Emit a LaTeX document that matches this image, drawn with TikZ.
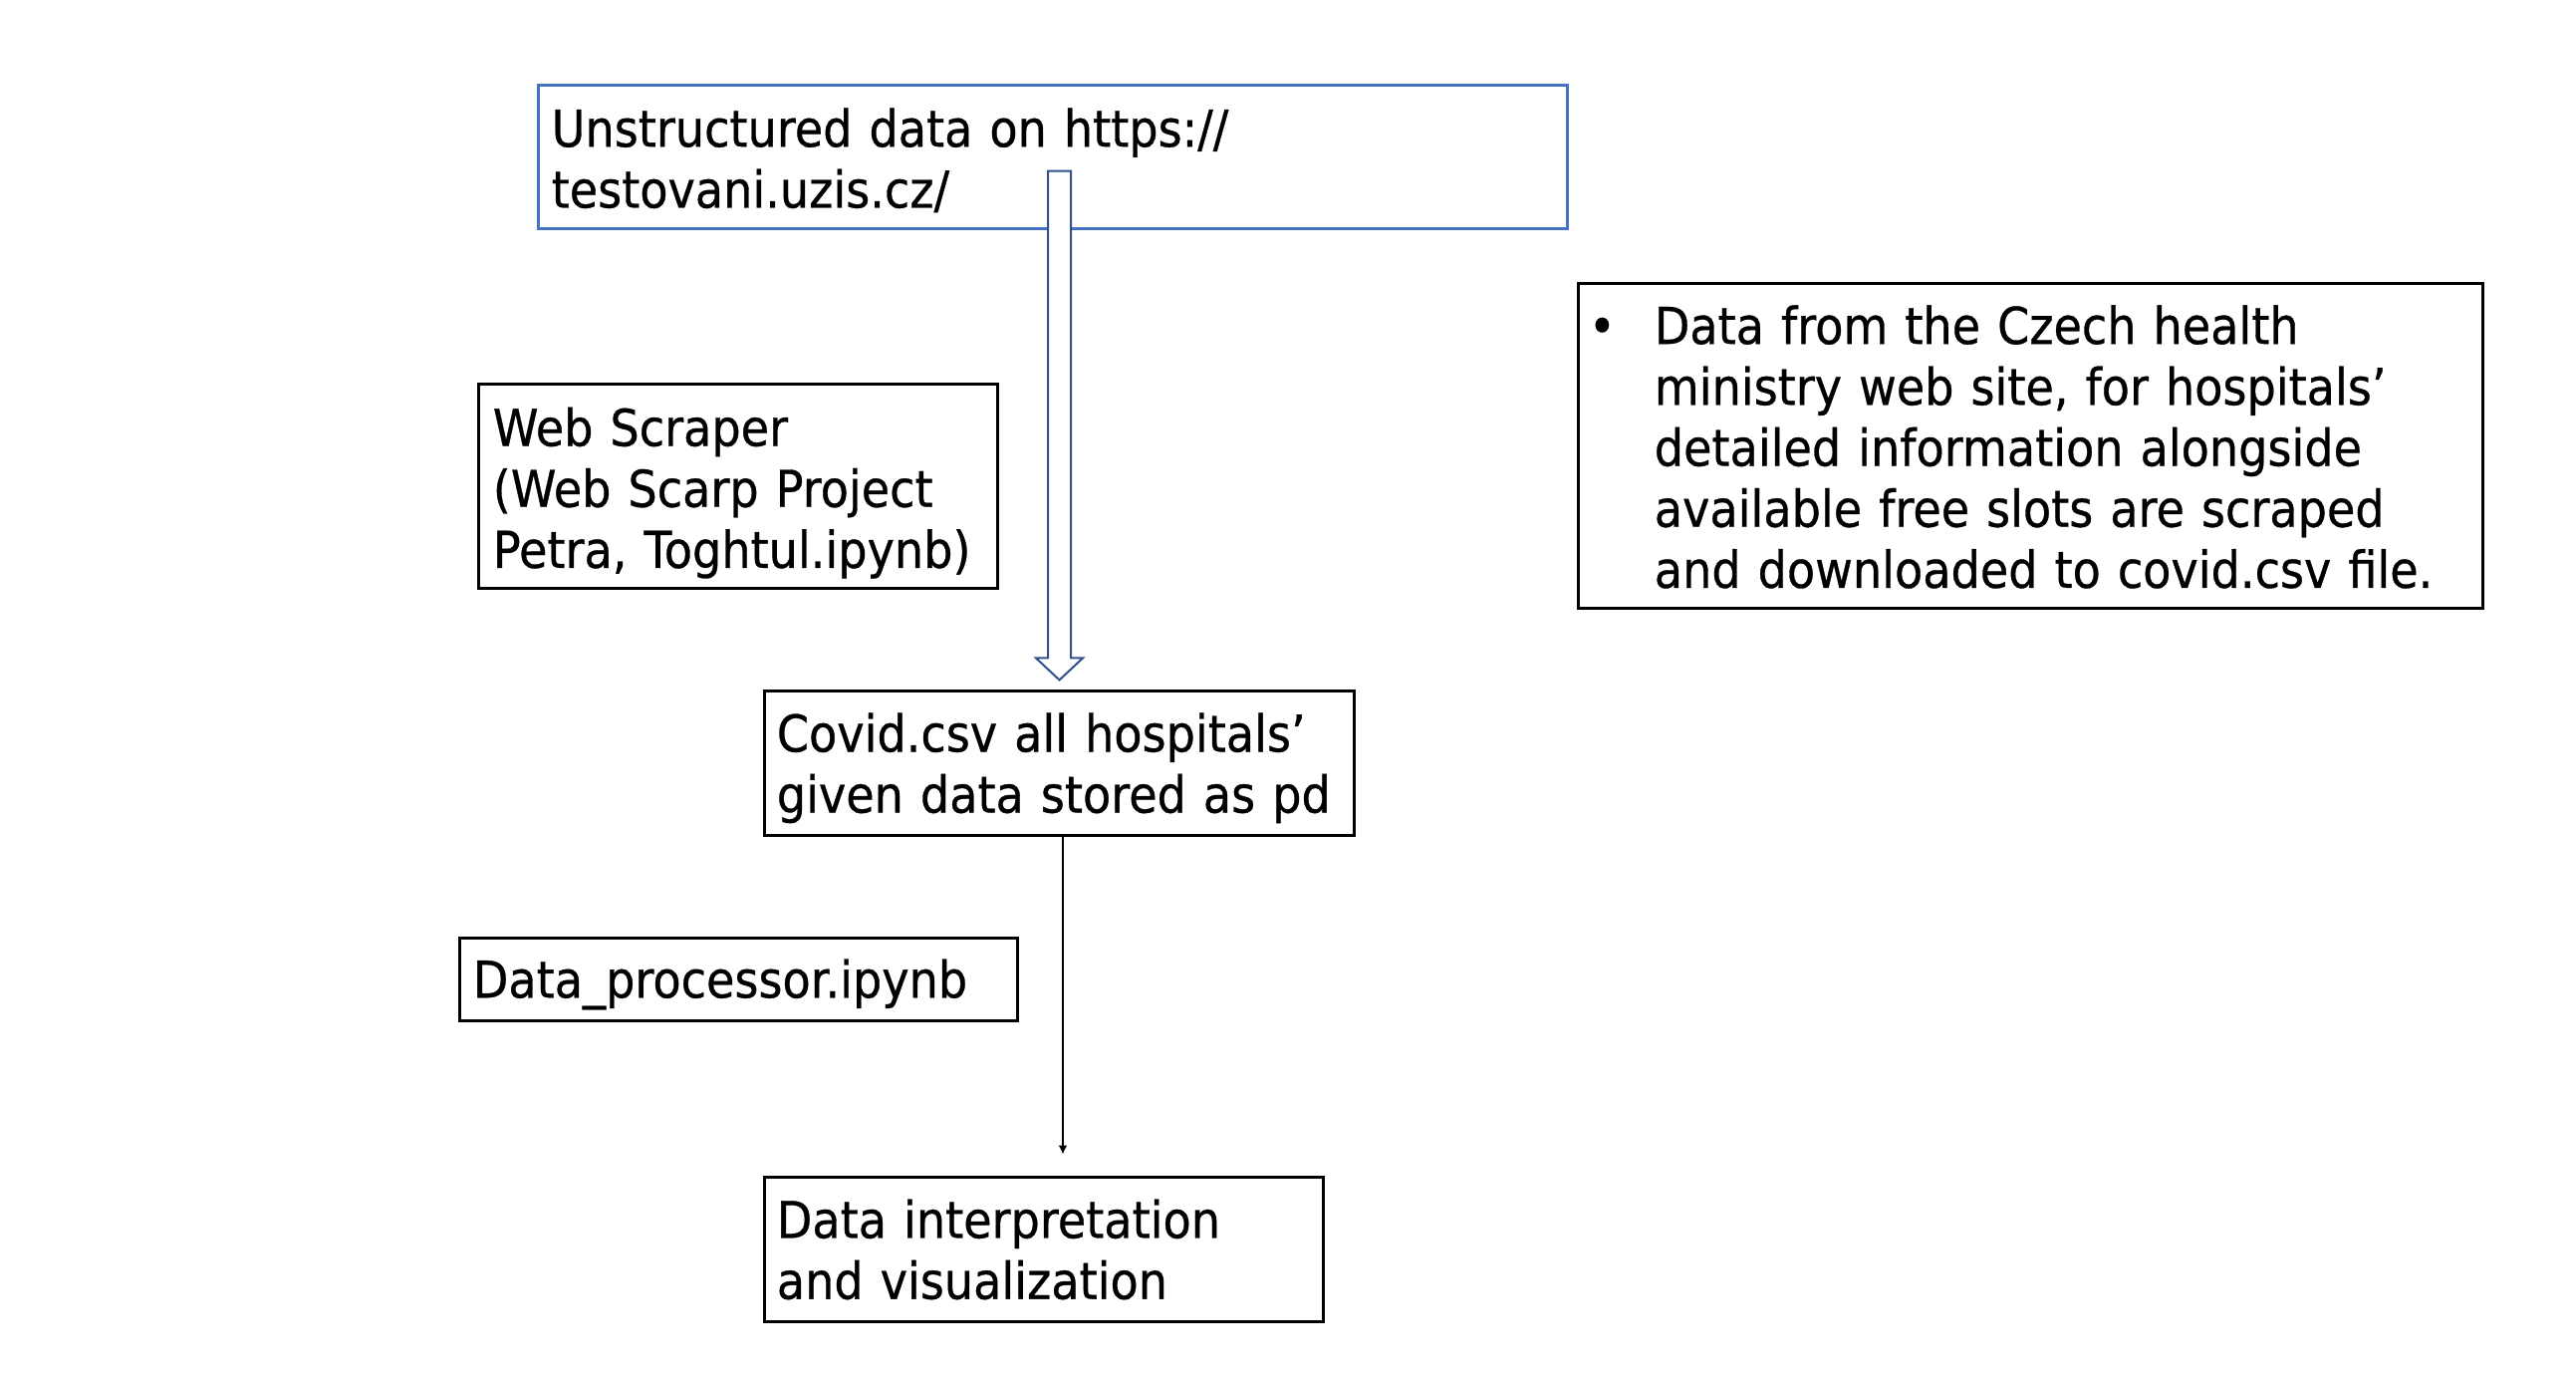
\documentclass[tikz,border=0pt]{standalone}
\usepackage{fontspec}
\setmainfont{DejaVu Sans}[FakeStretch=0.905,FakeBold=0.6]
\usetikzlibrary{arrows.meta,calc}
\definecolor{boxblue}{HTML}{4472C4}
\definecolor{arrowblue}{HTML}{2F528F}
\newcommand\topgap[1]{\rule{0pt}{\dimexpr 11pt+#1\relax}}
\begin{document}
\begin{tikzpicture}[x=0.01cm,y=-0.01cm,
  txt/.style={font=\fontsize{14.5}{17.4}\selectfont},
  plainbox/.style={draw=black,line width=0.03cm,rectangle,align=left,txt,inner ysep=0pt},
  bluebox/.style={plainbox,draw=boxblue},
  lower/.style={execute at begin node={\topgap{#1}}},
  thinarrow/.style={line width=0.5pt,-{Latex[length=2.5pt,width=2.5pt]}},
  hollow/.style={draw=arrowblue,line width=0.02cm,fill=white,line join=miter}]
\useasboundingbox (0,0) rectangle (2586,1382);

\node[bluebox,lower=1.9pt,minimum width=10.32cm,minimum height=1.43cm,text width=10.06cm,inner xsep=0.13cm] (src) at (1057,157.5)
  {Unstructured data on https://\\testovani.uzis.cz/};

\node[plainbox,minimum width=9.07cm,minimum height=3.25cm,text width=8.87cm,inner xsep=0.10cm] (note) at (2038.5,447.5)
  {\begin{tabular}{@{}p{0.66cm}@{}l@{}}
   \topgap{5.6pt}• & Data from the Czech health\\
     & ministry web site, for hospitals’\\
     & detailed information alongside\\
     & available free slots are scraped\\
     & and downloaded to covid.csv file.
   \end{tabular}};

\node[plainbox,lower=3.8pt,minimum width=5.20cm,minimum height=2.04cm,text width=4.92cm,inner xsep=0.14cm] (scraper) at (741,488)
  {Web Scraper\\(Web Scarp Project\\Petra, Toghtul.ipynb)};

\node[plainbox,lower=2.8pt,minimum width=5.91cm,minimum height=1.44cm,text width=5.67cm,inner xsep=0.12cm] (covid) at (1063.5,766)
  {Covid.csv all hospitals’\\given data stored as pd};

\node[plainbox,lower=2.8pt,minimum width=5.59cm,minimum height=0.82cm,text width=5.33cm,inner xsep=0.13cm] (proc) at (741.5,983)
  {Data\_processor.ipynb};

\node[plainbox,minimum width=5.60cm,minimum height=1.44cm,text width=5.36cm,inner xsep=0.12cm] (interp) at (1048,1254)
  {Data interpretation\\and visualization};

% hollow block arrow from source box to covid box
\coordinate (atop) at ($(src.south)+(6.5,-59)$);
\coordinate (atip) at ($(covid.north)+(0,-10)$);
\draw[hollow] ($(atop)+(-11.5,0)$) -- ($(atop)+(11.5,0)$) -- ($(atip)+(11.5,-22)$) -- ($(atip)+(23.5,-22)$)
  -- (atip) -- ($(atip)+(-23.5,-22)$) -- ($(atip)+(-11.5,-22)$) -- cycle;

% thin arrow from covid box downward
\coordinate (aend) at ($(interp.north)+(19,-22)$);
\draw[thinarrow] (covid.south -| aend) -- (aend);
\end{tikzpicture}
\end{document}
